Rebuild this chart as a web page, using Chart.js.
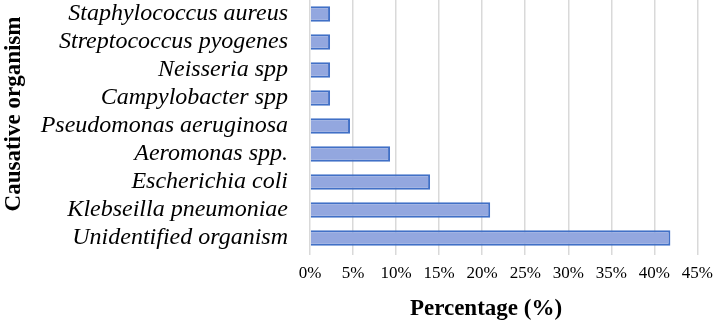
<!DOCTYPE html>
<html>
<head>
<meta charset="utf-8">
<script src="https://cdn.jsdelivr.net/npm/chart.js@4"></script>
<style>
  html, body { margin: 0; padding: 0; background: #fff; }
  #wrap { width: 721px; height: 323px; position: relative; }
</style>
</head>
<body>
<div id="wrap"><canvas id="chart"></canvas></div>
<script>
const organisms = [
  "Staphylococcus aureus",
  "Streptococcus pyogenes",
  "Neisseria spp",
  "Campylobacter spp",
  "Pseudomonas aeruginosa",
  "Aeromonas spp.",
  "Escherichia coli",
  "Klebseilla pneumoniae",
  "Unidentified organism"
];
const percentages = [2.33, 2.33, 2.33, 2.33, 4.65, 9.30, 13.95, 20.93, 41.86];
const xTitle = "Percentage (%)";
const yTitle = "Causative organism";

// axis titles drawn by hand so they sit where the original puts them
const axisTitles = {
  id: "axisTitles",
  afterDraw(c) {
    const ctx = c.ctx;
    ctx.save();
    ctx.fillStyle = "#000";
    ctx.font = "bold 23px 'Liberation Serif', 'Times New Roman', serif";
    ctx.textAlign = "center";
    ctx.textBaseline = "middle";
    ctx.fillText(xTitle, 486, 309);
    ctx.translate(14, 114);
    ctx.rotate(-Math.PI / 2);
    ctx.fillText(yTitle, 0, 0);
    ctx.restore();
  }
};

const ctx = document.getElementById("chart").getContext("2d");
new Chart(ctx, {
  type: "bar",
  data: {
    labels: organisms,
    datasets: [{
      data: percentages,
      backgroundColor: "#93a7df",
      borderColor: "#4170c6",
      borderWidth: 2,
      categoryPercentage: 0.6,
      barPercentage: 0.92
    }]
  },
  options: {
    indexAxis: "y",
    responsive: true,
    maintainAspectRatio: false,
    animation: false,
    layout: { padding: { top: 0, right: 16, bottom: 0, left: 0 } },
    plugins: { legend: { display: false }, tooltip: { enabled: false } },
    scales: {
      x: {
        min: 0,
        max: 45,
        ticks: {
          stepSize: 5,
          padding: 8,
          color: "#000",
          font: { family: "'Liberation Serif', serif", size: 17 },
          callback: v => v + "%"
        },
        grid: { color: "#d9d9d9", lineWidth: 1.5, tickLength: 3 },
        border: { display: false },
        afterFit: s => { s.height = 71; }
      },
      y: {
        ticks: {
          autoSkip: false,
          padding: 22,
          color: "#000",
          font: { family: "'Liberation Serif', serif", size: 24, style: "italic", lineHeight: 1 }
        },
        grid: { display: false, drawTicks: false },
        border: { display: false },
        afterFit: s => { s.width = 310; s.paddingTop = 0; s.paddingBottom = 0; }
      }
    }
  },
  plugins: [axisTitles]
});
</script>
</body>
</html>
